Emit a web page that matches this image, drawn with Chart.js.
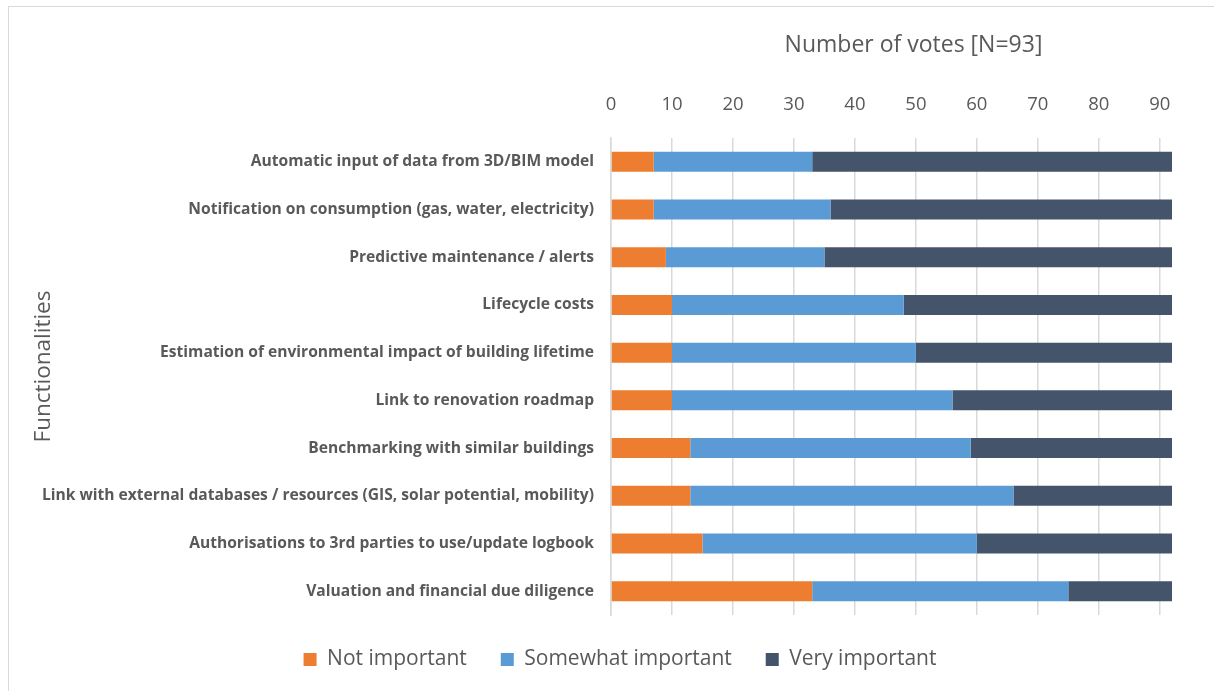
<!DOCTYPE html>
<html>
<head>
<meta charset="utf-8">
<script src="https://cdn.jsdelivr.net/npm/chart.js@4.4.1/dist/chart.umd.min.js"></script>
<style>
  html, body { margin: 0; padding: 0; background: #ffffff; }
  #wrap { position: relative; width: 1214px; height: 691px; overflow: hidden; }
  #frame { position: absolute; left: 8px; top: 6px; width: 1230px; height: 720px; border: 1.5px solid #d9d9d9; box-sizing: border-box; pointer-events: none; }
  canvas { position: absolute; left: 0; top: 0; }
</style>
</head>
<body>
<div id="wrap">
  <div id="frame"></div>
  <canvas id="c" width="1214" height="691"></canvas>
</div>
<script>
const categories = [
  "Automatic input of data from 3D/BIM model",
  "Notification on consumption (gas, water, electricity)",
  "Predictive maintenance / alerts",
  "Lifecycle costs",
  "Estimation of environmental impact of building lifetime",
  "Link to renovation roadmap",
  "Benchmarking with similar buildings",
  "Link with external databases / resources (GIS, solar potential, mobility)",
  "Authorisations to 3rd parties to use/update logbook",
  "Valuation and financial due diligence"
];
const notImportant = [7, 7, 9, 10, 10, 10, 13, 13, 15, 33];
const somewhatImportant = [26, 29, 26, 38, 40, 46, 46, 53, 45, 42];
const veryImportant = [59, 56, 57, 44, 42, 36, 33, 26, 32, 17];
const seriesNames = ["Not important", "Somewhat important", "Very important"];
const xMin = 0;
const xMax = 92;
const xStep = 10;
const xTitle = "Number of votes [N=93]";
const yTitle = "Functionalities";

const TEXT = "#595959";
const GRID = "#d9d9d9";
const FONT = "'Open Sans', Lato, 'Liberation Sans', sans-serif";

function shiftTitle(sc, dx, dy) {
  if (!sc || sc._titlePatched) return;
  const orig = sc.drawTitle;
  sc.drawTitle = function () {
    this.ctx.save();
    this.ctx.translate(dx, dy);
    orig.call(this);
    this.ctx.restore();
  };
  sc._titlePatched = true;
}

const tweaks = {
  id: 'tweaks',
  afterLayout(chart) {
    if (chart.legend) {
      chart.legend.left += 19;
      chart.legend.right += 19;
    }
    shiftTitle(chart.scales.x, 22, 0);
    shiftTitle(chart.scales.y, 0, -10);
  }
};

new Chart(document.getElementById('c'), {
  type: 'bar',
  data: {
    labels: categories,
    datasets: [
      { label: seriesNames[0], data: notImportant, backgroundColor: '#ED7D31' },
      { label: seriesNames[1], data: somewhatImportant, backgroundColor: '#5B9BD5' },
      { label: seriesNames[2], data: veryImportant, backgroundColor: '#44546A' }
    ]
  },
  options: {
    indexAxis: 'y',
    responsive: false,
    animation: false,
    devicePixelRatio: 1,
    layout: { padding: { left: 30, right: 42, top: 0, bottom: 11 } },
    datasets: { bar: { categoryPercentage: 1.0, barPercentage: 0.42, borderWidth: 0 } },
    scales: {
      x: {
        type: 'linear',
        position: 'top',
        stacked: true,
        min: xMin,
        max: xMax,
        ticks: {
          stepSize: xStep,
          includeBounds: false,
          color: TEXT,
          padding: 22,
          font: { family: FONT, size: 18.5 }
        },
        grid: { color: GRID, lineWidth: 1.5, drawTicks: false },
        border: { display: false },
        title: {
          display: true,
          text: xTitle,
          color: TEXT,
          font: { family: FONT, size: 23 },
          padding: { top: 32, bottom: 0 }
        },
        afterFit(scale) { scale.height = 138; }
      },
      y: {
        stacked: true,
        grid: { display: false, drawTicks: false },
        border: { display: true, color: GRID, width: 1.5 },
        ticks: {
          color: TEXT,
          padding: 17,
          font: { family: FONT, size: 15.6, weight: 'bold' }
        },
        title: {
          display: true,
          text: yTitle,
          color: TEXT,
          font: { family: FONT, size: 22.5 },
          padding: { top: 0, bottom: 0 }
        },
        afterFit(scale) { scale.width = 581; }
      }
    },
    plugins: {
      legend: {
        position: 'bottom',
        labels: {
          color: TEXT,
          boxWidth: 13,
          boxHeight: 13,
          padding: 34,
          font: { family: FONT, size: 21 }
        }
      },
      tooltip: { enabled: false }
    }
  },
  plugins: [tweaks]
});
</script>
</body>
</html>
